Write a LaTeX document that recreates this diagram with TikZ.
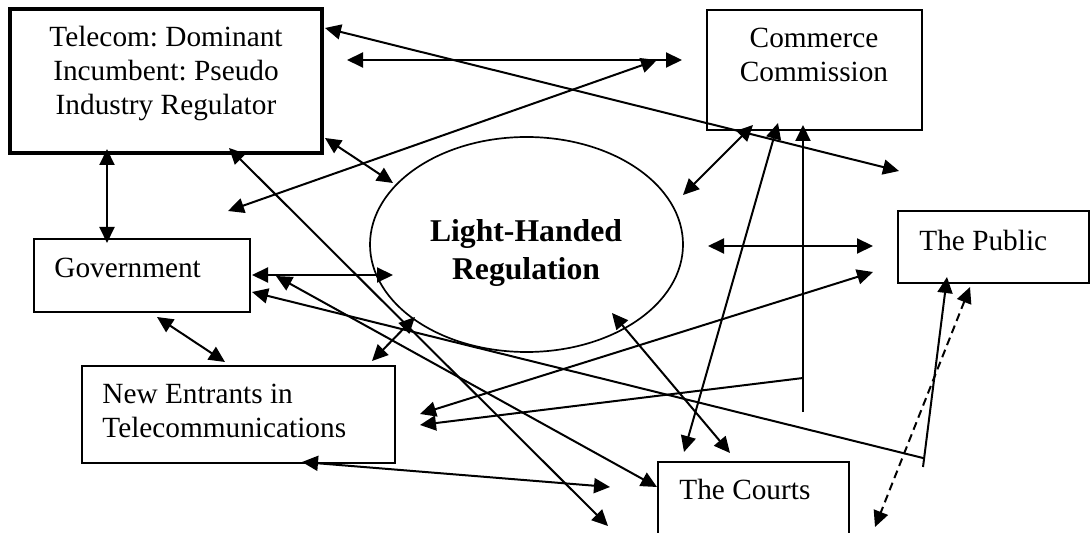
\documentclass[tikz,border=0pt]{standalone}
\usepackage{fontspec}
\setmainfont{Liberation Serif}
\usetikzlibrary{arrows.meta,shapes.geometric}
\frenchspacing
\begin{document}
\begin{tikzpicture}[x=0.5pt,y=-0.5pt,
  >={Triangle[length=8pt,width=7.5pt]},
  box/.style={draw, line width=0.85pt, inner sep=0pt, rectangle},
  thickbox/.style={box, line width=1.6pt},
  txt/.style={font=\fontsize{14.65pt}{17pt}\selectfont\frenchspacing, inner sep=0pt},
  boldtxt/.style={font=\fontsize{15.85pt}{19pt}\selectfont\bfseries, inner sep=0pt, align=center},
  link/.style={line width=1pt, <->},
  onelink/.style={line width=1pt, ->},
  dashlink/.style={line width=1pt, <->, dash pattern=on 4pt off 2.5pt}]
\useasboundingbox (0,0) rectangle (1090,533);
\clip (0,0) rectangle (1090,533);

% boxes
\node[thickbox, minimum width=156pt, minimum height=72pt] (tel) at (166,81) {};
\node[box, minimum width=107.5pt, minimum height=60pt] (com) at (814.5,70) {};
\node[box, minimum width=95.5pt, minimum height=36pt] (pub) at (993.5,247) {};
\node[box, minimum width=108pt, minimum height=36.5pt] (gov) at (142,275.5) {};
\node[box, minimum width=156.5pt, minimum height=48.5pt] (ne) at (238.5,414.5) {};
\node[box, minimum width=95.5pt, minimum height=49pt] (crt) at (753.5,511) {};
\node[draw, ellipse, line width=0.85pt, inner sep=0pt, minimum width=156.5pt, minimum height=107.5pt] (lhr) at (526.5,244.5) {};

% texts
\node[txt, align=center] (telT) at (166,74) {Telecom: Dominant\\Incumbent: Pseudo\\Industry Regulator};
\node[txt, align=center] (comT) at (814,55) {Commerce\\Commission};
\node[txt, anchor=west] (pubT) at (919,240) {The Public};
\node[txt, anchor=west] (govT) at (54,268) {Government};
\node[txt, anchor=west, align=left] (neT) at (102,410.5) {New Entrants in\\Telecommunications};
\node[txt, anchor=west] (crtT) at (679,489) {The Courts};
\node[boldtxt] (lhrT) at (526,253) {Light-Handed\\Regulation};

% connector end points
\coordinate (tA) at (107,149);  \coordinate (gA) at (107,243);
\coordinate (tB) at (325,28);   \coordinate (pB) at (899,171);
\coordinate (tC) at (347,60);   \coordinate (cC) at (682,60);
\coordinate (gD) at (228,211);  \coordinate (cD) at (657,60);
\coordinate (tE) at (325,138);  \coordinate (eE) at (393,183);
\coordinate (tF) at (229,148);  \coordinate (cF) at (608,526);
\coordinate (cG) at (753,125);  \coordinate (eG) at (683,195);
\coordinate (cH) at (778,123);  \coordinate (kH) at (684,452);
\coordinate (cI) at (803,125);  \coordinate (jI) at (803,412);
\coordinate (jI2) at (803,378); \coordinate (nI) at (420,425);
\coordinate (eJ) at (708,246);  \coordinate (pJ) at (873,246);
\coordinate (nK) at (420,414);  \coordinate (pK) at (873,272);
\coordinate (gL) at (252,275);  \coordinate (eL) at (393,275);
\coordinate (gM) at (276,276);  \coordinate (kM) at (657,487);
\coordinate (gN) at (252,292);  \coordinate (jN) at (923,458);
\coordinate (jN2) at (923,467); \coordinate (pN) at (947,277);
\coordinate (pO) at (970,287);  \coordinate (kO) at (875,527);
\coordinate (gP) at (157,317);  \coordinate (nP) at (225,362);
\coordinate (eQ) at (415,317);  \coordinate (nQ) at (372,361);
\coordinate (nR) at (302,462);  \coordinate (kR) at (610,487);
\coordinate (eS) at (612,313);  \coordinate (kS) at (730,453);

% connectors
\draw[link] (tA) -- (gA);
\draw[link] (tB) -- (pB);
\draw[link] (tC) -- (cC);
\draw[link] (gD) -- (cD);
\draw[link] (tE) -- (eE);
\draw[link] (tF) -- (cF);
\draw[link] (cG) -- (eG);
\draw[link] (cH) -- (kH);
\draw[onelink] (jI) -- (cI);
\draw[onelink] (jI2) -- (nI);
\draw[link] (eJ) -- (pJ);
\draw[link] (nK) -- (pK);
\draw[link] (gL) -- (eL);
\draw[link] (gM) -- (kM);
\draw[onelink] (jN) -- (gN);
\draw[onelink] (jN2) -- (pN);
\draw[dashlink] (pO) -- (kO);
\draw[link] (gP) -- (nP);
\draw[link] (eQ) -- (nQ);
\draw[link] (nR) -- (kR);
\draw[link] (eS) -- (kS);
\end{tikzpicture}
\end{document}
